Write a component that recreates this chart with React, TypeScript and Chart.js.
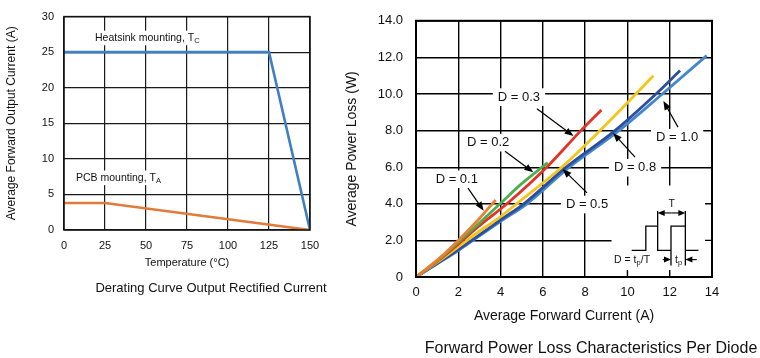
import React, { useEffect, useRef } from 'react';
import { Chart, registerables } from 'chart.js';

Chart.register(...registerables);

const FONT = "'Liberation Sans', Arial, Helvetica, sans-serif";

// ---------- Left chart: derating curve ----------
const tempTicks = [0, 25, 50, 75, 100, 125, 150];
const outputCurrentTicks = [0, 5, 10, 15, 20, 25, 30];
const heatsinkTemp = [0, 125, 150];
const heatsinkCurrent = [25, 25, 0];
const pcbTemp = [0, 25, 150];
const pcbCurrent = [3.8, 3.8, 0];

// ---------- Right chart: forward power loss ----------
const fwdCurrentTicks = [0, 2, 4, 6, 8, 10, 12, 14];
const powerLossTicks = [0, 2, 4, 6, 8, 10, 12, 14];
const powerLossTickLabels = ['0', '2.0', '4.0', '6.0', '8.0', '10.0', '12.0', '14.0'];
const dutyLabels = ['D = 0.1', 'D = 0.2', 'D = 0.3', 'D = 0.5', 'D = 0.8', 'D = 1.0'];
const d01Current = [0, 1, 2, 3, 3.77];
const d01Loss = [0, 0.92, 2.0, 3.2, 4.21];
const d02Current = [0, 1, 2, 3, 4, 5, 6.23];
const d02Loss = [0, 0.88, 1.9, 2.95, 4.03, 5.1, 6.25];
const d03Current = [0, 1, 2, 3, 4.3, 6.18, 7.8, 8.77];
const d03Loss = [0, 0.85, 1.8, 2.8, 4.0, 6.0, 8.0, 9.13];
const d05Current = [0, 1, 2, 3, 4, 4.76, 6.89, 8.7, 10.4, 11.23];
const d05Loss = [0, 0.8, 1.65, 2.5, 3.3, 4.0, 6.0, 8.0, 10.0, 11.0];
const d08Current = [0, 1, 2, 3, 4, 5.1, 7.1, 9.41, 11.35, 12.49];
const d08Loss = [0, 0.74, 1.5, 2.3, 3.12, 4.0, 6.0, 8.0, 10.0, 11.28];
const d10Current = [0, 1, 2, 3, 4, 5.25, 7.25, 9.6, 11.65, 13.75];
const d10Loss = [0, 0.72, 1.45, 2.25, 3.04, 4.0, 6.0, 8.0, 10.0, 12.1];

const seriesCurrents = [d01Current, d02Current, d03Current, d05Current, d08Current, d10Current];
const seriesLosses = [d01Loss, d02Loss, d03Loss, d05Loss, d08Loss, d10Loss];
const seriesColors = ['#ec7d31', '#4caf4f', '#e63127', '#f5c51a', '#2e4e9c', '#4286cf'];

// annotation placement (data coordinates)
const dutyNotePos = [
  { at: [1.93, 5.34], from: [2.46, 4.86], to: [3.2, 3.62] },
  { at: [3.41, 7.34], from: [4.21, 6.87], to: [5.55, 5.72] },
  { at: [4.87, 9.83], from: [5.72, 9.19], to: [7.45, 7.7] },
  { at: [8.09, 3.96], from: [8.09, 4.6], to: [6.93, 5.9] },
  { at: [10.36, 5.97], from: [10.36, 6.55], to: [9.32, 7.87] },
  { at: [12.35, 7.61], from: [12.39, 8.19], to: [11.7, 9.62] },
];

type Seg = { t: string; sub?: boolean };

const zip = (xs: number[], ys: number[]) => xs.map((x, i) => ({ x, y: ys[i] }));

function segsWidth(ctx: CanvasRenderingContext2D, segs: Seg[], size: number) {
  let w = 0;
  for (const s of segs) {
    ctx.font = `${s.sub ? size * 0.72 : size}px ${FONT}`;
    w += ctx.measureText(s.t).width;
  }
  return w;
}

function drawSegs(
  ctx: CanvasRenderingContext2D,
  segs: Seg[],
  x: number,
  y: number,
  size: number,
  align: 'left' | 'center' | 'right',
  bg?: { px: number; py: number }
) {
  const w = segsWidth(ctx, segs, size);
  let sx = align === 'left' ? x : align === 'center' ? x - w / 2 : x - w;
  if (bg) {
    ctx.fillStyle = '#fff';
    ctx.fillRect(sx - bg.px, y - size * 0.6 - bg.py, w + bg.px * 2, size * 1.2 + bg.py * 2);
  }
  ctx.fillStyle = '#111';
  ctx.textBaseline = 'middle';
  ctx.textAlign = 'left';
  for (const s of segs) {
    const fs = s.sub ? size * 0.72 : size;
    ctx.font = `${fs}px ${FONT}`;
    ctx.fillText(s.t, sx, s.sub ? y + size * 0.3 : y);
    sx += ctx.measureText(s.t).width;
  }
}

function drawArrow(ctx: CanvasRenderingContext2D, x1: number, y1: number, x2: number, y2: number, head = 8, half = 3.2) {
  const a = Math.atan2(y2 - y1, x2 - x1);
  const c = Math.cos(a);
  const s = Math.sin(a);
  ctx.beginPath();
  ctx.moveTo(x1, y1);
  ctx.lineTo(x2 - head * 0.7 * c, y2 - head * 0.7 * s);
  ctx.stroke();
  ctx.beginPath();
  ctx.moveTo(x2, y2);
  ctx.lineTo(x2 - head * c + half * s, y2 - head * s - half * c);
  ctx.lineTo(x2 - head * c - half * s, y2 - head * s + half * c);
  ctx.closePath();
  ctx.fill();
}

const deratePlugin = {
  id: 'derateDecor',
  beforeDatasetsDraw(chart: any) {
    const { ctx, scales } = chart;
    const x = scales.x;
    const y = scales.y;
    ctx.save();
    drawSegs(ctx, [{ t: 'Heatsink mounting, T' }, { t: 'C', sub: true }], x.getPixelForValue(18.9), y.getPixelForValue(27.0), 10.5, 'left', { px: 2, py: 1 });
    drawSegs(ctx, [{ t: 'PCB mounting, T' }, { t: 'A', sub: true }], x.getPixelForValue(7.3), y.getPixelForValue(7.33), 10.5, 'left', { px: 2, py: 1 });
    ctx.restore();
  },
  afterDraw(chart: any) {
    const { ctx, chartArea: a } = chart;
    ctx.save();
    ctx.strokeStyle = '#111';
    ctx.lineWidth = 1.5;
    ctx.strokeRect(a.left, a.top, a.right - a.left, a.bottom - a.top);
    drawSegs(ctx, [{ t: 'Derating Curve Output Rectified Current' }], 211, 288, 13, 'center');
    ctx.restore();
  },
};

const powerPlugin = {
  id: 'powerDecor',
  beforeDatasetsDraw(chart: any) {
    const { ctx, chartArea: a, scales } = chart;
    const x = scales.x;
    const y = scales.y;
    ctx.save();
    // blank area for the pulse inset
    const ix = x.getPixelForValue(9.25);
    const iy = y.getPixelForValue(5.0);
    ctx.fillStyle = '#fff';
    ctx.fillRect(ix, iy, a.right - ix, a.bottom - iy);
    ctx.strokeStyle = '#000';
    ctx.lineWidth = 1.4;
    ctx.beginPath();
    for (const v of [2, 4]) {
      const py = y.getPixelForValue(v);
      ctx.moveTo(a.right - 7, py);
      ctx.lineTo(a.right, py);
    }
    for (const v of [10, 12]) {
      const px = x.getPixelForValue(v);
      ctx.moveTo(px, a.bottom - 7);
      ctx.lineTo(px, a.bottom);
    }
    ctx.stroke();
    // duty labels
    dutyNotePos.forEach((n, i) => {
      drawSegs(ctx, [{ t: dutyLabels[i] }], x.getPixelForValue(n.at[0]), y.getPixelForValue(n.at[1]), 13, 'center', { px: 5, py: 1 });
    });
    ctx.restore();
  },
  afterDatasetsDraw(chart: any) {
    const { ctx, chartArea: a, scales } = chart;
    const x = scales.x;
    const y = scales.y;
    const X = (v: number) => x.getPixelForValue(v);
    const Y = (v: number) => y.getPixelForValue(v);
    ctx.save();
    ctx.strokeStyle = '#000';
    ctx.fillStyle = '#000';
    ctx.lineWidth = 1.2;
    dutyNotePos.forEach((n) => {
      drawArrow(ctx, X(n.from[0]), Y(n.from[1]), X(n.to[0]), Y(n.to[1]), 9, 3.5);
    });
    // pulse inset
    const base = 1.46;
    const high = 2.78;
    const top = 3.6;
    const low = 0.63;
    ctx.lineWidth = 1.3;
    ctx.beginPath();
    const poly = [
      [10.2, base], [10.87, base], [10.87, high], [11.43, high], [11.43, base],
      [12.06, base], [12.06, high], [12.74, high], [12.74, base], [13.36, base],
    ];
    poly.forEach((p, i) => (i === 0 ? ctx.moveTo(X(p[0]), Y(p[1])) : ctx.lineTo(X(p[0]), Y(p[1]))));
    ctx.moveTo(X(11.43), Y(high));
    ctx.lineTo(X(11.43), Y(top));
    ctx.moveTo(X(12.74), Y(high));
    ctx.lineTo(X(12.74), Y(top));
    ctx.moveTo(X(12.06), Y(base));
    ctx.lineTo(X(12.06), Y(low));
    ctx.moveTo(X(12.74), Y(base));
    ctx.lineTo(X(12.74), Y(low));
    ctx.stroke();
    ctx.lineWidth = 1.1;
    const ty = Y(3.5);
    const mid = (X(11.43) + X(12.74)) / 2;
    drawArrow(ctx, mid, ty, X(11.43), ty, 7, 3);
    drawArrow(ctx, mid, ty, X(12.74), ty, 7, 3);
    const tpy = Y(0.95);
    drawArrow(ctx, X(11.67), tpy, X(12.06), tpy, 7, 3);
    drawArrow(ctx, X(13.28), tpy, X(12.74), tpy, 7, 3);
    drawSegs(ctx, [{ t: 'T' }], X(12.09), Y(4.0), 10.5, 'center');
    drawSegs(ctx, [{ t: 'D = t' }, { t: 'p', sub: true }, { t: '/T' }], X(11.07), tpy, 10.5, 'right');
    drawSegs(ctx, [{ t: 't' }, { t: 'p', sub: true }], X(12.42), tpy, 10.5, 'center');
    // frame
    ctx.lineWidth = 2;
    ctx.strokeStyle = '#000';
    ctx.strokeRect(a.left, a.top, a.right - a.left, a.bottom - a.top);
    ctx.restore();
  },
  afterDraw(chart: any) {
    const { ctx } = chart;
    ctx.save();
    drawSegs(ctx, [{ t: 'Forward Power Loss Characteristics Per Diode' }], 251, 349, 16, 'center');
    ctx.restore();
  },
};

function DerateChart() {
  const ref = useRef<HTMLCanvasElement>(null);
  useEffect(() => {
    if (!ref.current) return;
    const chart = new Chart(ref.current, {
      type: 'line',
      data: {
        datasets: [
          {
            label: 'Heatsink mounting',
            data: zip(heatsinkTemp, heatsinkCurrent),
            borderColor: '#3f7fc4',
            borderWidth: 2.6,
            pointRadius: 0,
            fill: false,
          },
          {
            label: 'PCB mounting',
            data: zip(pcbTemp, pcbCurrent),
            borderColor: '#e07b39',
            borderWidth: 2.6,
            pointRadius: 0,
            fill: false,
          },
        ],
      },
      options: {
        animation: false,
        responsive: false,
        events: [],
        layout: { padding: { left: 0, top: 9, right: 30, bottom: 25 } },
        plugins: { legend: { display: false }, tooltip: { enabled: false }, title: { display: false } },
        scales: {
          x: {
            type: 'linear',
            min: 0,
            max: 150,
            afterBuildTicks: (s: any) => {
              s.ticks = tempTicks.map((v) => ({ value: v }));
            },
            afterFit: (s: any) => {
              s.height = 45;
            },
            ticks: { padding: 9, color: '#111', font: { family: FONT, size: 11 }, maxRotation: 0, autoSkip: false },
            grid: { color: '#1a1a1a', lineWidth: 1.2, drawTicks: false },
            border: { display: false },
            title: {
              display: true,
              text: 'Temperature (°C)',
              color: '#111',
              font: { family: FONT, size: 11 },
              padding: { top: 0, bottom: 5 },
            },
          },
          y: {
            type: 'linear',
            min: 0,
            max: 30,
            afterBuildTicks: (s: any) => {
              s.ticks = outputCurrentTicks.map((v) => ({ value: v }));
            },
            afterFit: (s: any) => {
              s.width = 64;
            },
            ticks: { padding: 10, color: '#111', font: { family: FONT, size: 11 } },
            grid: { color: '#1a1a1a', lineWidth: 1.2, drawTicks: false },
            border: { display: false },
            title: {
              display: true,
              text: 'Average Forward Output Current (A)',
              color: '#111',
              font: { family: FONT, size: 12 },
              padding: { top: 4, bottom: 0 },
            },
          },
        },
      },
      plugins: [deratePlugin],
    } as any);
    return () => chart.destroy();
  }, []);
  return <canvas ref={ref} width={340} height={300} style={{ position: 'absolute', left: 0, top: 0 }} />;
}

function PowerChart() {
  const ref = useRef<HTMLCanvasElement>(null);
  useEffect(() => {
    if (!ref.current) return;
    const chart = new Chart(ref.current, {
      type: 'line',
      data: {
        datasets: dutyLabels.map((label, i) => ({
          label,
          data: zip(seriesCurrents[i], seriesLosses[i]),
          borderColor: seriesColors[i],
          borderWidth: 2.8,
          pointRadius: 0,
          fill: false,
          cubicInterpolationMode: 'monotone',
        })),
      },
      options: {
        animation: false,
        responsive: false,
        events: [],
        layout: { padding: { left: 0, top: 12, right: 48, bottom: 31 } },
        plugins: { legend: { display: false }, tooltip: { enabled: false }, title: { display: false } },
        scales: {
          x: {
            type: 'linear',
            min: 0,
            max: 14,
            afterBuildTicks: (s: any) => {
              s.ticks = fwdCurrentTicks.map((v) => ({ value: v }));
            },
            afterFit: (s: any) => {
              s.height = 50;
            },
            ticks: { padding: 8, color: '#111', font: { family: FONT, size: 13 }, maxRotation: 0, autoSkip: false },
            grid: { color: '#000', lineWidth: 1.4, drawTicks: false },
            border: { display: false },
            title: {
              display: true,
              text: 'Average Forward Current (A)',
              color: '#111',
              font: { family: FONT, size: 14 },
              padding: { top: 0, bottom: 2 },
            },
          },
          y: {
            type: 'linear',
            min: 0,
            max: 14,
            afterBuildTicks: (s: any) => {
              s.ticks = powerLossTicks.map((v) => ({ value: v }));
            },
            afterFit: (s: any) => {
              s.width = 76;
            },
            ticks: {
              padding: 13,
              color: '#111',
              font: { family: FONT, size: 13 },
              callback: (_v: any, i: number) => powerLossTickLabels[i],
            },
            grid: { color: '#000', lineWidth: 1.4, drawTicks: false },
            border: { display: false },
            title: {
              display: true,
              text: 'Average Power Loss (W)',
              color: '#111',
              font: { family: FONT, size: 14 },
              padding: { top: 4, bottom: 0 },
            },
          },
        },
      },
      plugins: [powerPlugin],
    } as any);
    return () => chart.destroy();
  }, []);
  return <canvas ref={ref} width={420} height={358} style={{ position: 'absolute', left: 340, top: 0 }} />;
}

export default function App() {
  return (
    <div style={{ position: 'fixed', left: 0, top: 0, width: 760, height: 358, background: '#fff', overflow: 'hidden' }}>
      <DerateChart />
      <PowerChart />
    </div>
  );
}
